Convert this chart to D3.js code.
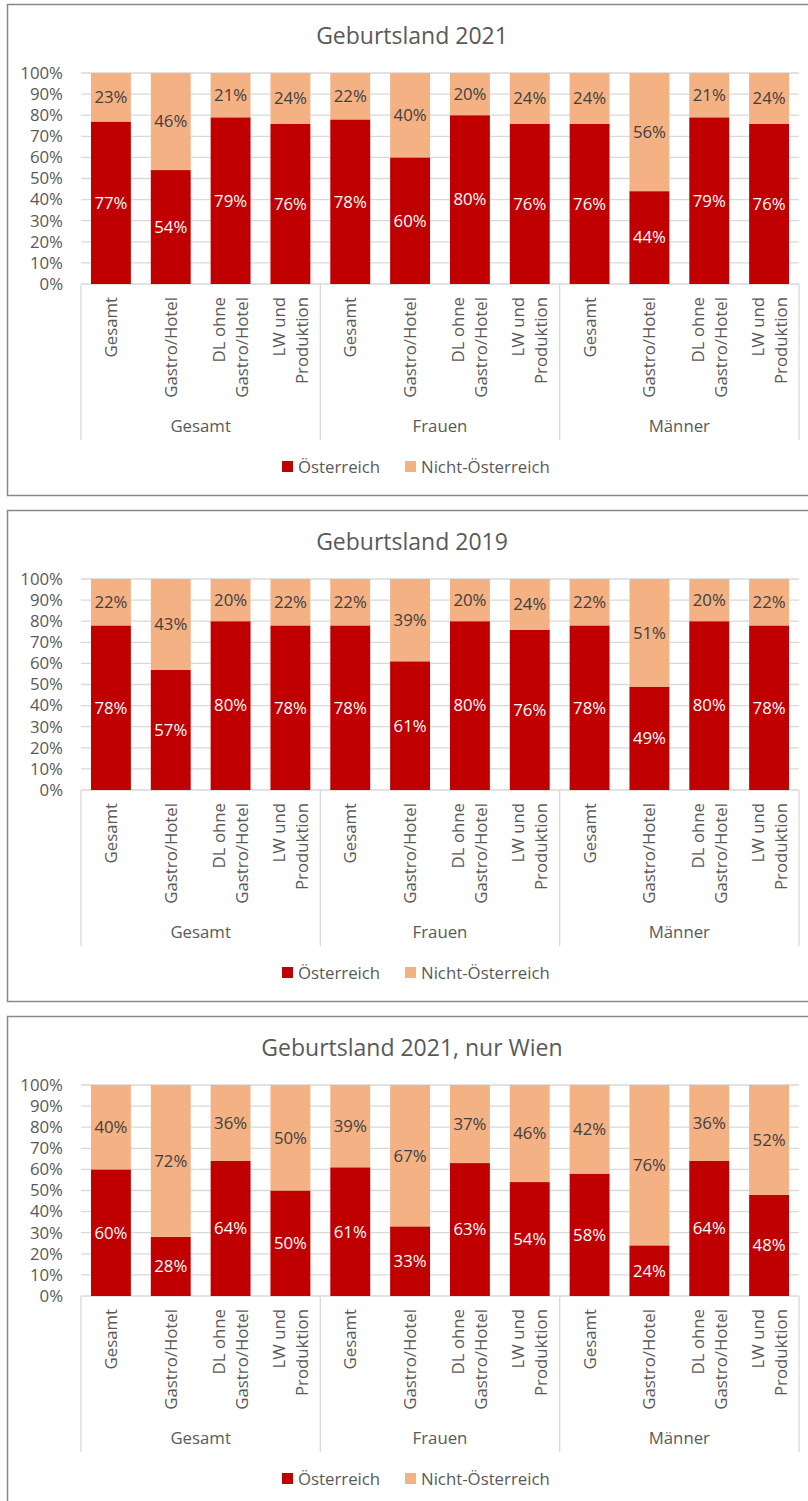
<!DOCTYPE html>
<meta charset="utf-8">
<head>
  <script src="https://cdn.jsdelivr.net/npm/d3@7"></script>
  <style>
    body { margin: 0; background: #fff; }
    text { font-family: "Open Sans", "Noto Sans", sans-serif; }
  </style>
</head>
<body>
<script>

// Daten
var titel = ["Geburtsland 2021", "Geburtsland 2019", "Geburtsland 2021, nur Wien"];
var gruppen = ["Gesamt", "Frauen", "Männer"];
var branchen = [["Gesamt"], ["Gastro/Hotel"], ["DL ohne", "Gastro/Hotel"], ["LW und", "Produktion"]];
var serien = ["Österreich", "Nicht-Österreich"];
var farben = ["#C00000", "#F4B183"];
var ticks = [0, 10, 20, 30, 40, 50, 60, 70, 80, 90, 100];

var oe2021 = [77, 54, 79, 76, 78, 60, 80, 76, 76, 44, 79, 76];
var nicht2021 = [23, 46, 21, 24, 22, 40, 20, 24, 24, 56, 21, 24];
var oe2019 = [78, 57, 80, 78, 78, 61, 80, 76, 78, 49, 80, 78];
var nicht2019 = [22, 43, 20, 22, 22, 39, 20, 24, 22, 51, 20, 22];
var oeWien = [60, 28, 64, 50, 61, 33, 63, 54, 58, 24, 64, 48];
var nichtWien = [40, 72, 36, 50, 39, 67, 37, 46, 42, 76, 36, 52];

var werte = [[oe2021, nicht2021], [oe2019, nicht2019], [oeWien, nichtWien]];

var w = 808, h = 1501;
var left = 81, right = 799;
var plotTop = 69, plotH = 211;
var fs = "16.8px";

var svg = d3.select("body").append("svg")
    .attr("width", w)
    .attr("height", h);

var kats = d3.range(gruppen.length * branchen.length);

var x = d3.scaleBand()
    .domain(kats)
    .range([left, right])
    .paddingInner(1/3)
    .paddingOuter(1/6);

var y = d3.scaleLinear().domain([0, 100]).range([plotTop + plotH, plotTop]);

titel.forEach(function(t, p) {
  var top = 4 + p * 506;
  var g = svg.append("g").attr("transform", "translate(0," + top + ")");

  // Rahmen
  g.append("rect")
    .attr("x", 7.5).attr("y", 0.5)
    .attr("width", 820).attr("height", 491)
    .attr("fill", "none")
    .attr("stroke", "#898989")
    .attr("stroke-width", 1.5);

  g.append("text")
    .attr("x", 412).attr("y", 32)
    .attr("dy", "0.35em")
    .attr("text-anchor", "middle")
    .attr("fill", "#595959")
    .style("font-size", "23px")
    .text(t);

  // Gitterlinien
  g.selectAll(".grid")
    .data(ticks)
    .enter().append("line")
    .attr("x1", left).attr("x2", right)
    .attr("y1", function(d) { return y(d); })
    .attr("y2", function(d) { return y(d); })
    .attr("stroke", "#D9D9D9")
    .attr("stroke-width", 1.3);

  var yAxis = g.append("g")
    .attr("transform", "translate(" + left + ",0)")
    .call(d3.axisLeft(y).tickValues(ticks).tickSize(0).tickPadding(18)
      .tickFormat(function(d) { return d + "%"; }));
  yAxis.select(".domain").remove();
  yAxis.selectAll("text")
    .attr("fill", "#595959")
    .style("font-size", fs)
    .style("font-family", "'Open Sans', sans-serif");

  // gestapelte Balken
  var tabelle = kats.map(function(i) {
    return { k: i, oe: werte[p][0][i], nicht: werte[p][1][i] };
  });
  var stack = d3.stack().keys(["oe", "nicht"])(tabelle);

  var lagen = g.selectAll(".lage")
    .data(stack)
    .enter().append("g")
    .attr("fill", function(d, i) { return farben[i]; });

  lagen.selectAll("rect")
    .data(function(d) { return d; })
    .enter().append("rect")
    .attr("x", function(d) { return x(d.data.k); })
    .attr("width", x.bandwidth())
    .attr("y", function(d) { return y(d[1]); })
    .attr("height", function(d) { return y(d[0]) - y(d[1]); });

  stack.forEach(function(s, si) {
    g.selectAll(".lbl" + si)
      .data(s)
      .enter().append("text")
      .attr("x", function(d) { return x(d.data.k) + x.bandwidth() / 2; })
      .attr("y", function(d) { return (y(d[0]) + y(d[1])) / 2; })
      .attr("dy", "0.35em")
      .attr("text-anchor", "middle")
      .attr("fill", si === 0 ? "#FFFFFF" : "#404040")
      .style("font-size", fs)
      .text(function(d) { return (d[1] - d[0]) + "%"; });
  });

  // Kategorienachse
  var basis = y(0);
  var gw = (right - left) / gruppen.length;

  d3.range(gruppen.length + 1).forEach(function(i) {
    g.append("line")
      .attr("x1", left + i * gw).attr("x2", left + i * gw)
      .attr("y1", basis).attr("y2", basis + 156)
      .attr("stroke", "#D9D9D9")
      .attr("stroke-width", 1.3);
  });

  kats.forEach(function(k) {
    var zeilen = branchen[k % branchen.length];
    var cx = x(k) + x.bandwidth() / 2;
    var n = zeilen.length;
    zeilen.forEach(function(z, j) {
      var bx = cx + 6 + (j - (n - 1) / 2) * 23;
      g.append("text")
        .attr("transform", "translate(" + bx + "," + (basis + 13) + ") rotate(-90)")
        .attr("text-anchor", "end")
        .attr("fill", "#595959")
        .style("font-size", fs)
        .text(z);
    });
  });

  gruppen.forEach(function(gr, i) {
    g.append("text")
      .attr("x", left + (i + 0.5) * gw)
      .attr("y", basis + 142)
      .attr("dy", "0.35em")
      .attr("text-anchor", "middle")
      .attr("fill", "#595959")
      .style("font-size", fs)
      .text(gr);
  });

  // Legende
  var lx = [282, 405];
  serien.forEach(function(s, i) {
    g.append("rect")
      .attr("x", lx[i]).attr("y", 457)
      .attr("width", 11).attr("height", 11)
      .attr("fill", farben[i]);
    g.append("text")
      .attr("x", lx[i] + 16).attr("y", 463)
      .attr("dy", "0.35em")
      .attr("fill", "#595959")
      .style("font-size", fs)
      .text(s);
  });
});

</script>
</body>
